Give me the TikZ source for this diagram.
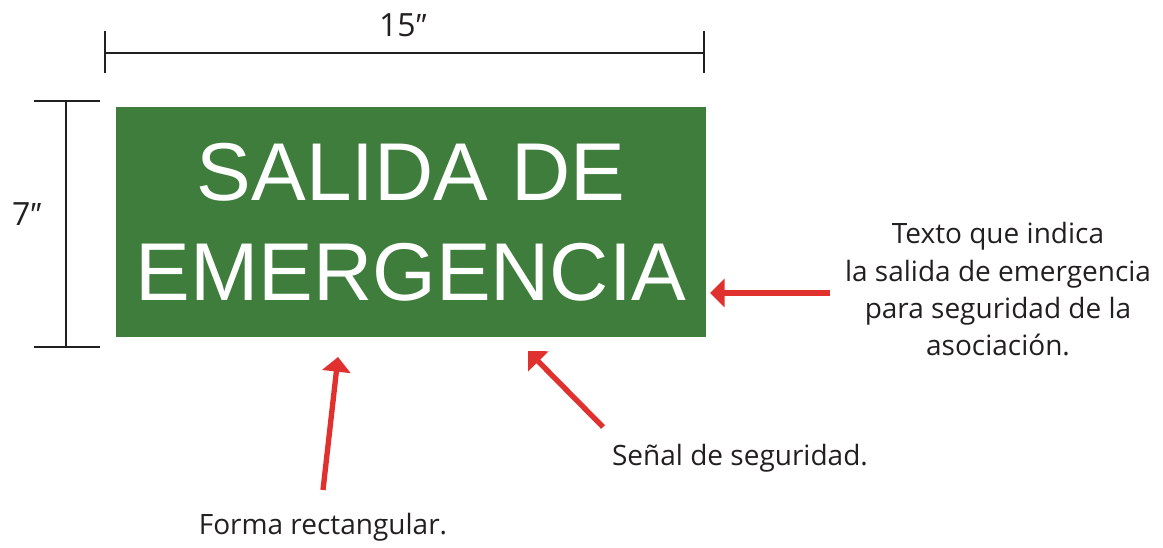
\documentclass[tikz,border=0pt]{standalone}
\usepackage{fontspec}
\setmainfont{Open Sans}
\newfontfamily\signfont{Liberation Sans}
\usetikzlibrary{arrows.meta}
\definecolor{signgreen}{HTML}{3E7D3B}
\definecolor{pointred}{HTML}{E0312F}
\definecolor{ink}{HTML}{231F20}
\newcommand{\inch}{{\signfont ″}}

\begin{document}
\begin{tikzpicture}[
  x=0.75pt, y=-0.75pt,
  sign/.style={fill=signgreen, text=white, align=center, inner sep=0pt, minimum width=442.5pt, minimum height=172.5pt, font=\signfont\fontsize{61.5}{75}\selectfont},
  note/.style={text=ink, align=center, inner sep=0pt, font=\fontsize{21}{28.1}\selectfont},
  size/.style={text=ink, inner sep=0pt, font=\fontsize{24}{28}\selectfont},
  measure/.style={draw=ink, line width=1.5pt},
  pointer/.style={draw=pointred, line width=4pt, -{Triangle[length=11pt, width=21pt]}}
]
\useasboundingbox (0,0) rectangle (1163,548);

\node[sign] (sign) at (411,222) {SALIDA DE\\EMERGENCIA};

% medidas
\node[size] (width) at (403,25) {15\inch};
\node[size] (height) at (27,214) {7\inch};
\draw[measure] (105,53) -- (704,53);
\draw[measure] (105,31) -- (105,73);
\draw[measure] (704,31) -- (704,73);
\draw[measure] (66,101) -- (66,347);
\draw[measure] (34,101) -- (100,101);
\draw[measure] (34,347) -- (100,347);

% notas
\node[note, anchor=north] (text) at (998,222) {Texto que indica\\la salida de emergencia\\para seguridad de la\\asociación.};
\node[note, anchor=base] (safety) at (740,465) {Señal de seguridad.};
\node[note, anchor=base] (shape) at (323,534) {Forma rectangular.};

\coordinate (texttail) at (830,293);
\coordinate (texttip) at (710,293);
\coordinate (safetytail) at (603,427);
\coordinate (safetytip) at (528,351);
\coordinate (shapetail) at (323,490);
\coordinate (shapetip) at (338,357);

\draw[pointer] (texttail) -- (texttip);
\draw[pointer] (safetytail) -- (safetytip);
\draw[pointer] (shapetail) -- (shapetip);
\end{tikzpicture}
\end{document}
